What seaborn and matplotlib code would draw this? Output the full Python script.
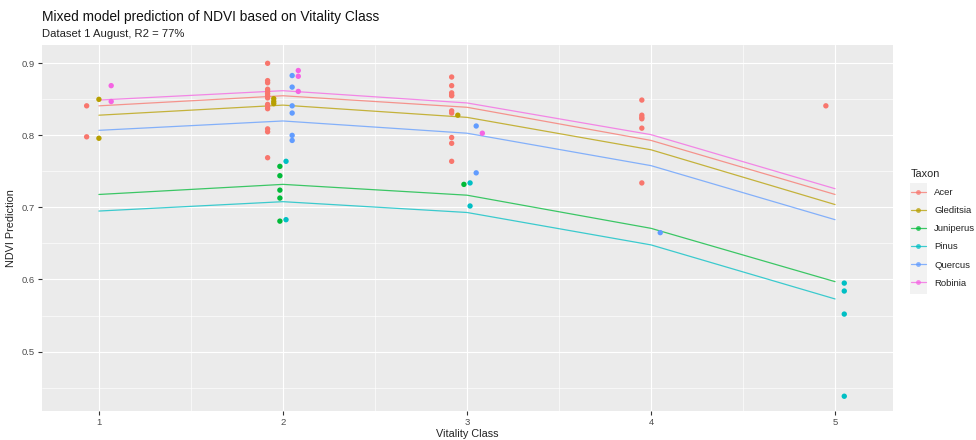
import numpy as np
import pandas as pd
import matplotlib
matplotlib.use("Agg")
import matplotlib.pyplot as plt
from matplotlib.lines import Line2D
from matplotlib.patches import Rectangle
import seaborn as sns

# ------------------------------------------------------------------
# Data
# ------------------------------------------------------------------
vitality = [1, 2, 3, 4, 5]
taxa = ["Acer", "Gleditsia", "Juniperus", "Pinus", "Quercus", "Robinia"]
colors = ["#F8766D", "#B79F00", "#00BA38", "#00BFC4", "#619CFF", "#F564E3"]

# model predictions per taxon at vitality class 1..5
pred_acer = [0.841, 0.855, 0.839, 0.793, 0.718]
pred_gleditsia = [0.828, 0.842, 0.825, 0.780, 0.704]
pred_juniperus = [0.718, 0.732, 0.717, 0.671, 0.597]
pred_pinus = [0.695, 0.708, 0.693, 0.648, 0.573]
pred_quercus = [0.807, 0.820, 0.803, 0.758, 0.683]
pred_robinia = [0.849, 0.862, 0.845, 0.801, 0.726]

# observed NDVI per taxon, by vitality class
obs_acer = {
    1: [0.841, 0.798],
    2: [0.900, 0.876, 0.873, 0.864, 0.861, 0.858, 0.855, 0.852, 0.843,
        0.840, 0.837, 0.809, 0.805, 0.769],
    3: [0.881, 0.869, 0.859, 0.856, 0.855, 0.834, 0.831, 0.797, 0.789, 0.764],
    4: [0.849, 0.828, 0.825, 0.823, 0.810, 0.734],
    5: [0.841],
}
obs_gleditsia = {1: [0.850, 0.796], 2: [0.851, 0.847, 0.844], 3: [0.828]}
obs_juniperus = {2: [0.757, 0.744, 0.724, 0.713, 0.681], 3: [0.732]}
obs_pinus = {2: [0.764, 0.683], 3: [0.734, 0.702], 5: [0.595, 0.584, 0.552, 0.438]}
obs_quercus = {2: [0.883, 0.867, 0.841, 0.831, 0.800, 0.793],
               3: [0.813, 0.748], 4: [0.665]}
obs_robinia = {1: [0.869, 0.847], 2: [0.890, 0.882, 0.861], 3: [0.803]}

preds = [pred_acer, pred_gleditsia, pred_juniperus, pred_pinus, pred_quercus, pred_robinia]
obs = [obs_acer, obs_gleditsia, obs_juniperus, obs_pinus, obs_quercus, obs_robinia]

pred_df = pd.DataFrame({
    "Vitality": np.tile(vitality, len(taxa)),
    "Taxon": np.repeat(taxa, len(vitality)),
    "NDVI": np.concatenate(preds),
})

rows = []
for taxon, d in zip(taxa, obs):
    for vc, vals in d.items():
        for v in vals:
            rows.append((vc, taxon, v))
obs_df = pd.DataFrame(rows, columns=["Vitality", "Taxon", "NDVI"])

# position_dodge(width = 0.2) like ggplot: groups present at each class
dodge_w = 0.2
obs_df["x"] = obs_df["Vitality"].astype(float)
for vc, grp in obs_df.groupby("Vitality"):
    present = [t for t in taxa if t in set(grp["Taxon"])]
    n = len(present)
    for i, t in enumerate(present):
        off = -dodge_w / 2 + dodge_w * (i + 0.5) / n
        mask = (obs_df["Vitality"] == vc) & (obs_df["Taxon"] == t)
        obs_df.loc[mask, "x"] = vc + off

# ------------------------------------------------------------------
# Plot (ggplot theme_gray look)
# ------------------------------------------------------------------
sns.set_theme(style="darkgrid", rc={
    "axes.facecolor": "#EBEBEB",
    "grid.color": "white",
    "axes.edgecolor": "#EBEBEB",
})
plt.rcParams["font.family"] = ["Liberation Sans", "DejaVu Sans"]

fig = plt.figure(figsize=(9.76, 4.4), dpi=100)
ax = fig.add_axes([0.0427, 0.0659, 0.915 - 0.0427, 0.8977 - 0.0659])
palette = dict(zip(taxa, colors))

sns.lineplot(data=pred_df, x="Vitality", y="NDVI", hue="Taxon", palette=palette,
             ax=ax, linewidth=0.9, alpha=0.75, legend=False, zorder=2)
sns.scatterplot(data=obs_df, x="x", y="NDVI", hue="Taxon", palette=palette,
                ax=ax, s=15, linewidth=0, legend=False, zorder=3)

ax.set_xlim(0.689, 5.315)
ax.set_ylim(0.4175, 0.9254)
ax.set_xticks(vitality)
ax.set_yticks([0.5, 0.6, 0.7, 0.8, 0.9])
ax.set_xticks([1.5, 2.5, 3.5, 4.5], minor=True)
ax.set_yticks([0.45, 0.55, 0.65, 0.75, 0.85], minor=True)
ax.grid(which="major", color="white", linewidth=0.85)
ax.grid(which="minor", color="white", linewidth=0.45)
ax.set_axisbelow(True)
for s in ax.spines.values():
    s.set_visible(False)
ax.tick_params(axis="both", which="major", length=2.8, width=0.8, color="#333333",
               labelsize=6.8, labelcolor="#4D4D4D", pad=2, bottom=True, left=True)
ax.tick_params(axis="both", which="minor", length=0)

ax.set_xlabel("Vitality Class", fontsize=7.8, color="#222222", labelpad=2)
ax.set_ylabel("NDVI Prediction", fontsize=7.8, color="#222222", labelpad=4)

fig.text(0.0427, 0.952, "Mixed model prediction of NDVI based on Vitality Class",
         fontsize=9.9, color="#111111", ha="left", va="baseline")
fig.text(0.0427, 0.916, "Dataset 1 August, R2 = 77%",
         fontsize=8.1, color="#222222", ha="left", va="baseline")

# legend (ggplot style keys on grey background)
handles = [Line2D([0], [0], color=c, lw=0.9, alpha=0.75, marker="o",
                  markersize=3.5, markerfacecolor=c, markeredgewidth=0)
           for c in colors]
fig.patches.append(Rectangle((910 / 976, 1 - 294 / 440), 17 / 976, 111 / 440,
                             transform=fig.transFigure, facecolor="#F2F2F2",
                             edgecolor="none", zorder=0))
leg = fig.legend(handles, taxa, title="Taxon", loc="upper left",
                 bbox_to_anchor=(907 / 976, 1 - 165 / 440), frameon=False,
                 fontsize=6.8, title_fontsize=7.8, handlelength=1.6,
                 handletextpad=0.9, labelspacing=0.97, borderaxespad=0)
leg._legend_box.align = "left"
for t in leg.get_texts():
    t.set_color("#222222")

fig.savefig("out.png", dpi=100)
